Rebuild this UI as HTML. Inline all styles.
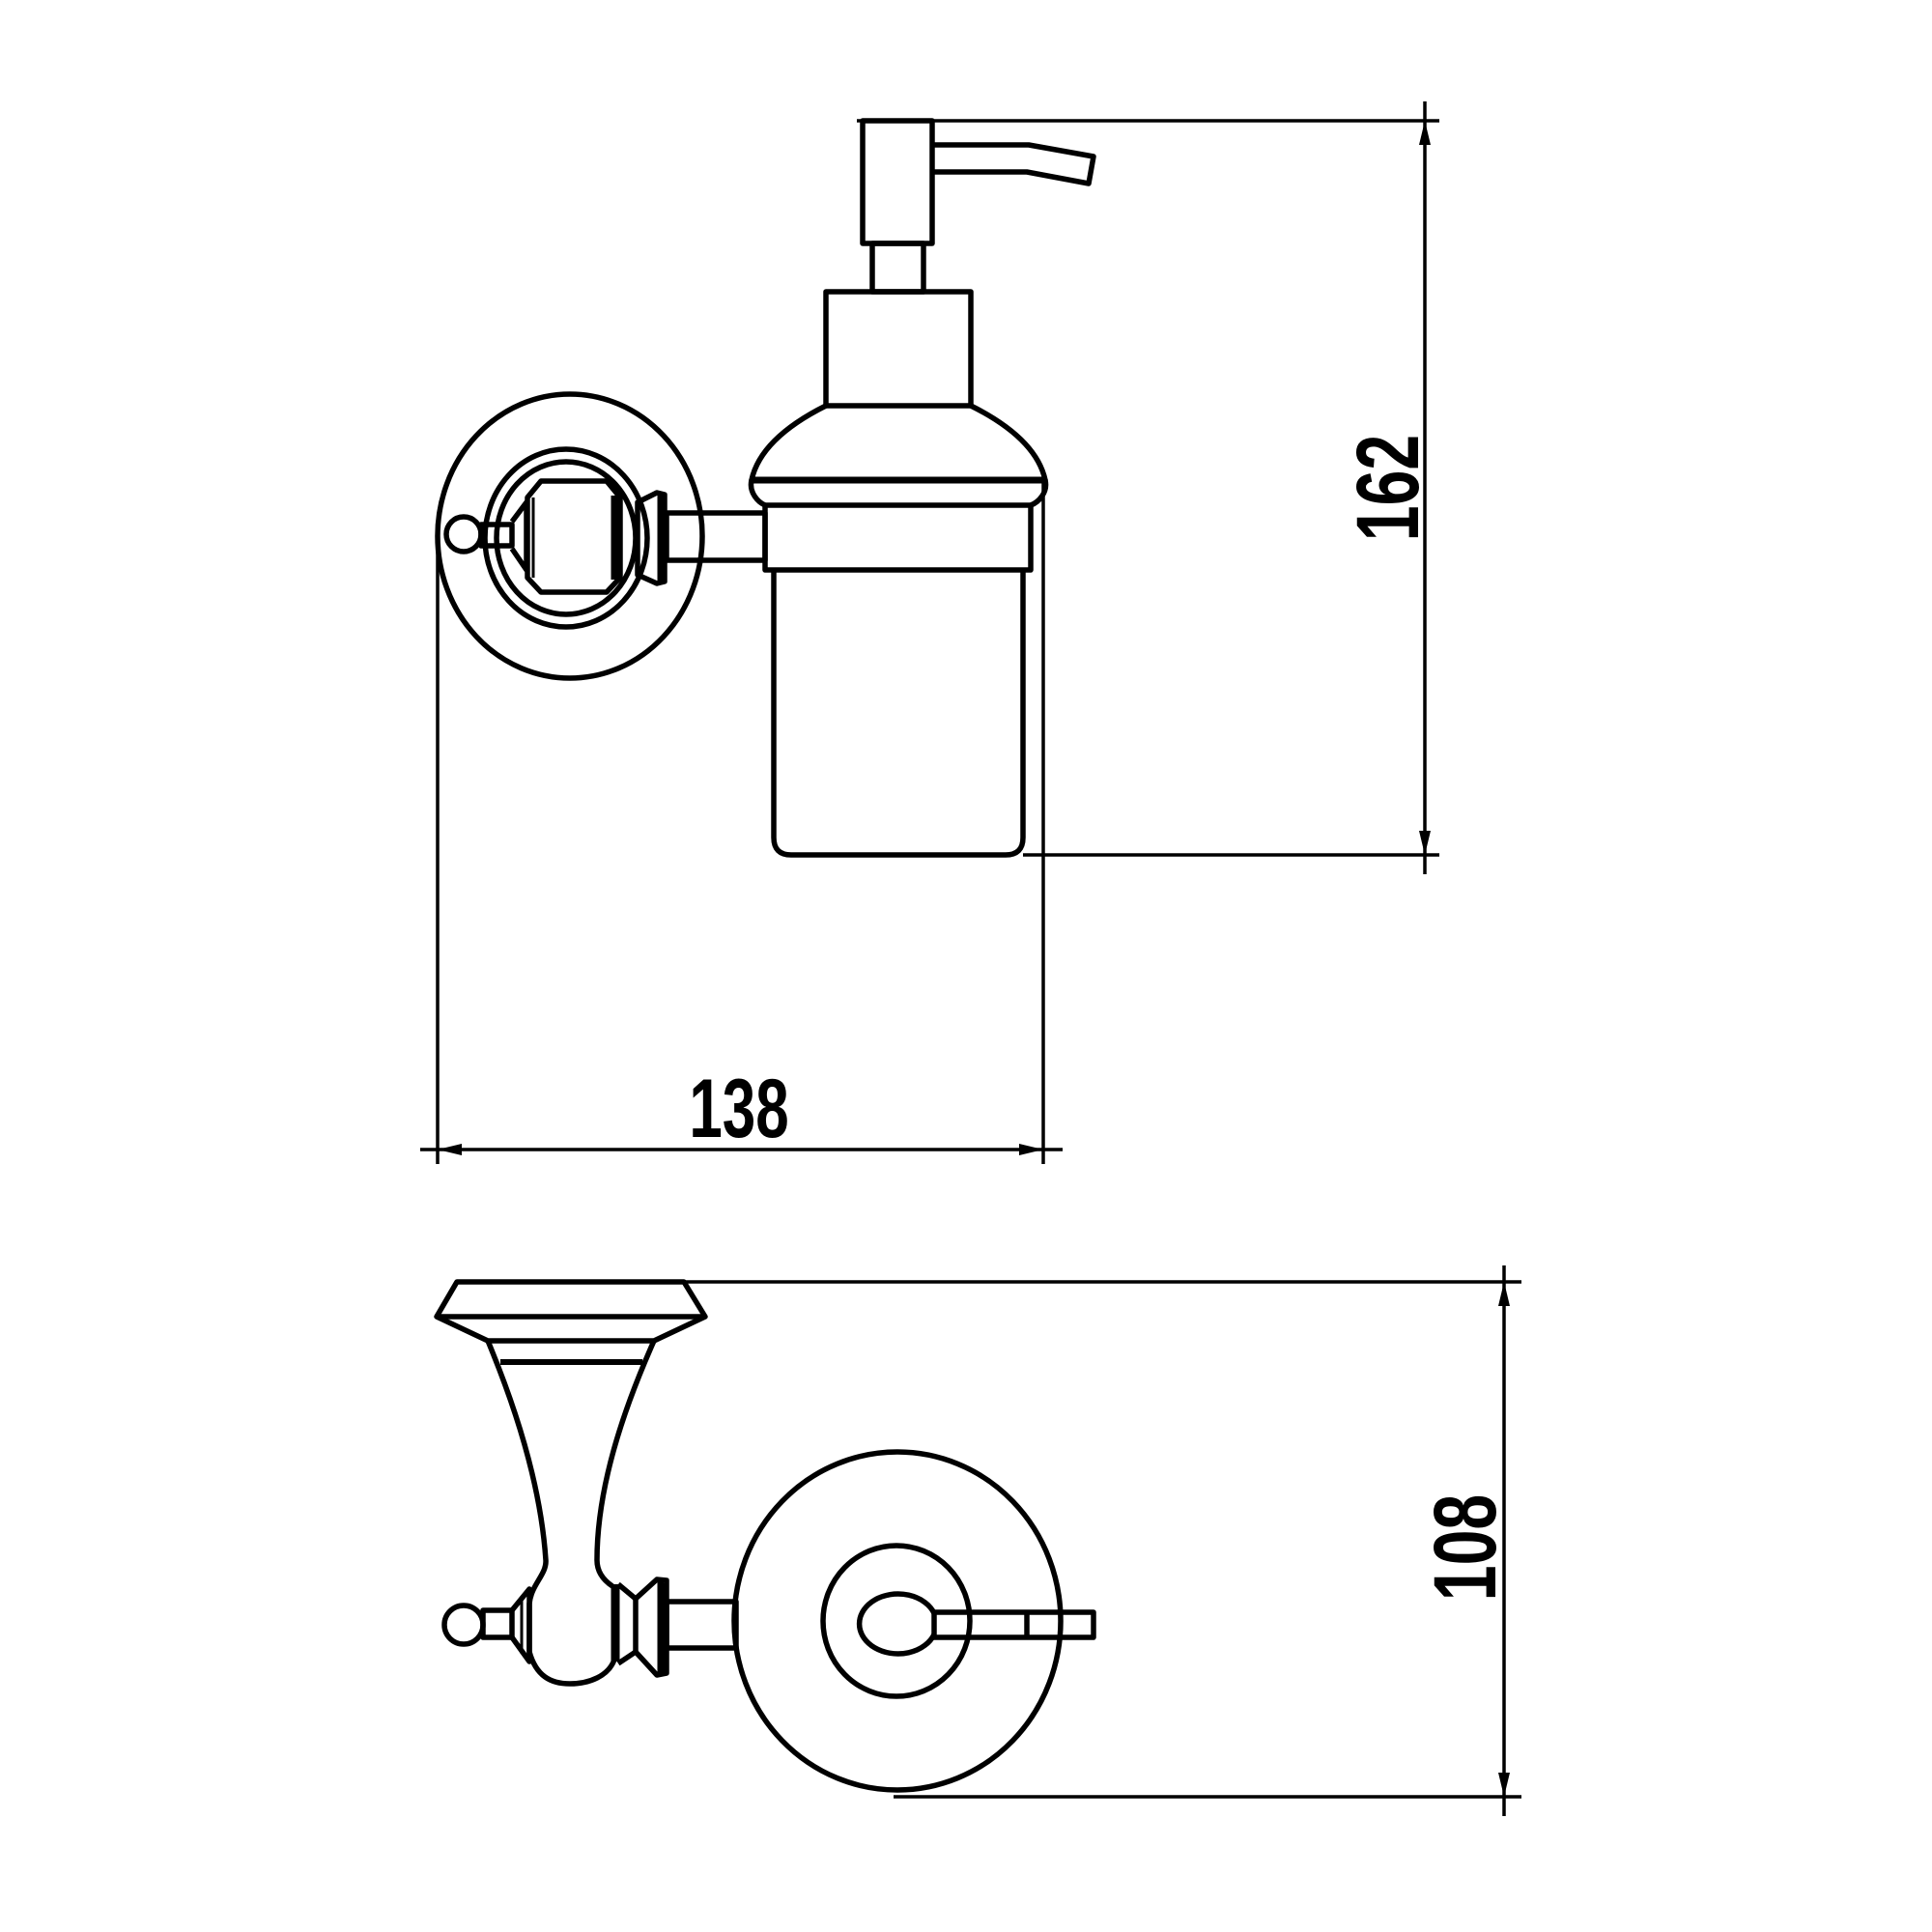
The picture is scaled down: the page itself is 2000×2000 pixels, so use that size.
<!DOCTYPE html>
<html><head><meta charset="utf-8"><style>html,body{margin:0;padding:0;background:#fff}svg{display:block}
.t{font-family:"Liberation Sans",sans-serif;font-weight:bold;fill:#000;stroke:none}</style></head>
<body>
<svg width="2000" height="2000" viewBox="0 0 2000 2000" xmlns="http://www.w3.org/2000/svg">
<g fill="none" stroke="#000" stroke-width="5.5" stroke-linejoin="round">
<g stroke-width="3.5">
<line x1="887" y1="125" x2="1490" y2="125"/>
<line x1="1059" y1="885" x2="1490" y2="885"/>
<line x1="1475" y1="105" x2="1475" y2="905"/>
<line x1="453" y1="555" x2="453" y2="1205"/>
<line x1="1080" y1="497" x2="1080" y2="1205"/>
<line x1="435" y1="1190" x2="1100" y2="1190"/>
</g>
<g fill="#000" stroke="none">
<polygon points="1475,125 1469,150 1481,150"/>
<polygon points="1475,885 1469,860 1481,860"/>
<polygon points="453,1190 478,1184 478,1196"/>
<polygon points="1080,1190 1055,1184 1055,1196"/>
</g>
<rect x="893" y="125" width="72" height="127"/>
<polyline points="965,150 1065,150 1132,162 1127,190 1063,178 965,178"/>
<rect x="903" y="252" width="53" height="50"/>
<rect x="855" y="302" width="150" height="118"/>
<path d="M855,420 C815,440 785,465 778,497 L1082,497 C1075,465 1045,440 1005,420"/>
<path d="M778,497 C775,510 785,520 792,523 M1082,497 C1085,510 1075,520 1067,523"/>
<line x1="778" y1="497" x2="1082" y2="497" stroke-width="7"/>
<rect x="792" y="523" width="275" height="67"/>
<path d="M801,590 L801,867 Q801,885 819,885 L1041,885 Q1059,885 1059,867 L1059,590"/>
<ellipse cx="590" cy="555" rx="137" ry="147"/>
<ellipse cx="586" cy="557" rx="84" ry="92"/>
<ellipse cx="586" cy="557" rx="72" ry="79"/>
<path d="M560,498 L628,498 L642,515 L642,598 L628,613 L560,613 L546,598 L546,515 Z"/>
<line x1="636" y1="513" x2="636" y2="600" stroke-width="7"/>
<line x1="552" y1="515" x2="552" y2="598" stroke-width="3"/>
<circle cx="480" cy="553" r="18"/>
<rect x="498" y="543" width="32" height="22"/>
<path d="M530,540 L545,520 L545,590 L530,568"/>
<path d="M660,520 L680,510 L688,512 L688,602 L680,604 L660,595 Z"/>
<line x1="684" y1="510" x2="684" y2="605" stroke-width="7"/>
<rect x="690" y="531" width="102" height="49"/>
<text class="t" x="0" y="0" transform="translate(1468,505) rotate(-90) scale(0.72,1)" style="font-size:92px" text-anchor="middle">162</text>
<text class="t" x="0" y="0" transform="translate(765,1177) scale(0.72,1)" style="font-size:86px" text-anchor="middle">138</text>

<g stroke-width="3.5">
<line x1="708" y1="1327" x2="1575" y2="1327"/>
<line x1="925" y1="1860" x2="1575" y2="1860"/>
<line x1="1557" y1="1310" x2="1557" y2="1880"/>
</g>
<g fill="#000" stroke="none">
<polygon points="1557,1327 1551,1352 1563,1352"/>
<polygon points="1557,1860 1551,1835 1563,1835"/>
</g>
<text class="t" x="0" y="0" transform="translate(1548,1602) rotate(-90) scale(0.72,1)" style="font-size:92px" text-anchor="middle">108</text>
<polygon points="473,1327 708,1327 730,1363 677,1388 505,1388 452,1363"/>
<line x1="452" y1="1363" x2="730" y2="1363"/>
<line x1="518" y1="1410" x2="665" y2="1410" stroke-width="6"/>
<path d="M505,1388 C535,1460 560,1540 565,1615 C566,1630 550,1640 548,1660 L548,1710 C555,1735 570,1743 590,1743 C610,1743 630,1735 636,1718"/>
<path d="M677,1388 C645,1460 618,1540 618,1615 C618,1630 628,1638 634,1642"/>
<line x1="637" y1="1640" x2="637" y2="1720" stroke-width="9"/>
<path d="M640,1640 L658,1655 L680,1635 L690,1636 L690,1732 L680,1734 L658,1710 L640,1722"/>
<line x1="658" y1="1655" x2="658" y2="1710"/>
<line x1="684" y1="1635" x2="684" y2="1734" stroke-width="7"/>
<circle cx="480" cy="1682" r="20"/>
<rect x="500" y="1667" width="30" height="28"/>
<path d="M530,1667 L548,1645 L548,1720 L530,1695"/>
<line x1="540" y1="1652" x2="540" y2="1712" stroke-width="3"/>
<rect x="690" y="1658" width="72" height="48"/>
<ellipse cx="929" cy="1678" rx="169" ry="175"/>
<ellipse cx="928" cy="1678" rx="76" ry="78"/>
<path d="M967,1670 A40,31 0 1,0 967,1692"/>
<rect x="967" y="1669" width="165" height="26"/>
<line x1="1063" y1="1669" x2="1063" y2="1695"/>
</g>
</svg>
</body></html>
